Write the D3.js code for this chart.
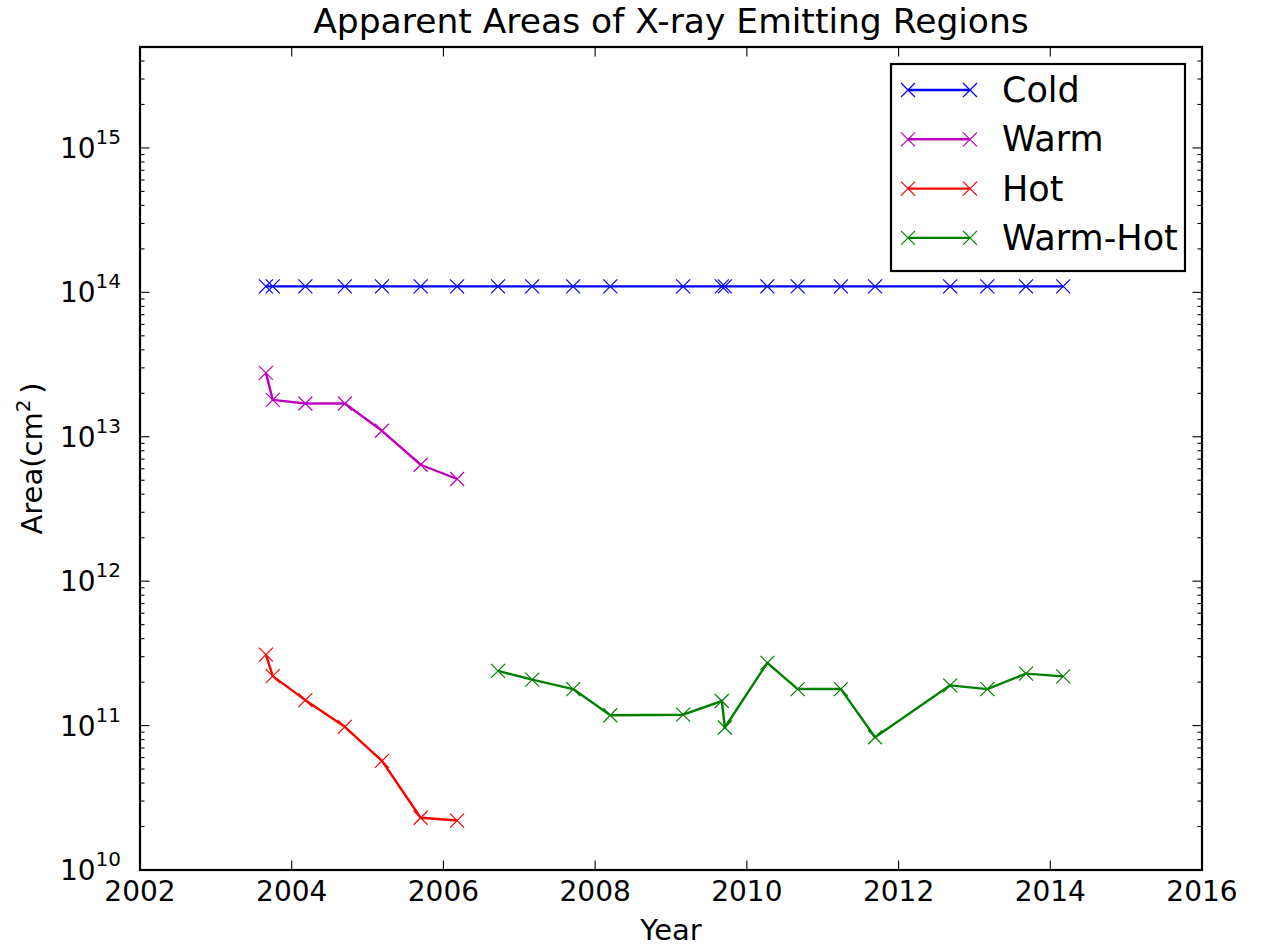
<!DOCTYPE html>
<meta charset="utf-8">
<style>
body { margin: 0; background: #fff; }
svg { font-family: "DejaVu Sans", sans-serif; }
</style>
<svg width="1262" height="951"></svg>
<script src="https://d3js.org/d3.v7.min.js"></script>
<script>

// observation dates (decimal year)
var years = [2003.66, 2003.75, 2004.18, 2004.70, 2005.19, 2005.70, 2006.18,
             2006.72, 2007.17, 2007.71, 2008.20, 2009.16, 2009.67, 2009.71,
             2010.27, 2010.67, 2011.24, 2011.69, 2012.68, 2013.17, 2013.68, 2014.17];

var coldArea = [1.1e14, 1.1e14, 1.1e14, 1.1e14, 1.1e14, 1.1e14, 1.1e14,
                1.1e14, 1.1e14, 1.1e14, 1.1e14, 1.1e14, 1.1e14, 1.1e14,
                1.1e14, 1.1e14, 1.1e14, 1.1e14, 1.1e14, 1.1e14, 1.1e14, 1.1e14];

// warm and hot only for the first 7 dates
var warmArea = [2.77e13, 1.8e13, 1.7e13, 1.7e13, 1.1e13, 6.4e12, 5.1e12];
var hotArea = [3.1e11, 2.2e11, 1.5e11, 9.8e10, 5.7e10, 2.3e10, 2.2e10];

// warm-hot for the remaining 15 dates
var warmHotArea = [2.39e11, 2.08e11, 1.79e11, 1.18e11, 1.19e11, 1.48e11, 9.7e10,
                   2.72e11, 1.79e11, 1.79e11, 8.3e10, 1.9e11, 1.79e11, 2.29e11, 2.19e11];

var xTicks = [2002, 2004, 2006, 2008, 2010, 2012, 2014, 2016];
var yTicks = [1e10, 1e11, 1e12, 1e13, 1e14, 1e15];

var series = [
  {name: "Cold", color: "#0000ff", x: years, y: coldArea},
  {name: "Warm", color: "#bf00bf", x: years.slice(0, 7), y: warmArea},
  {name: "Hot", color: "#ff0000", x: years.slice(0, 7), y: hotArea},
  {name: "Warm-Hot", color: "#008000", x: years.slice(7), y: warmHotArea}
];

var svg = d3.select("svg"),
    pLeft = 140, pRight = 1202, pTop = 47, pBottom = 870;

var x = d3.scaleLinear().domain([2002, 2016]).range([pLeft, pRight]);
var y = d3.scaleLog().domain([1e10, 5e15]).range([pBottom, pTop]);

// minor ticks for log axis
var minor = [];
for (var e = 10; e <= 15; e++) {
  for (var m = 2; m <= 9; m++) {
    var v = m * Math.pow(10, e);
    if (v <= 5e15) minor.push(v);
  }
}

function cross(cx, cy, r) {
  return "M" + (cx - r) + "," + (cy - r) + "L" + (cx + r) + "," + (cy + r) +
         "M" + (cx - r) + "," + (cy + r) + "L" + (cx + r) + "," + (cy - r);
}

var g = svg.append("g");

// data lines
series.forEach(function(s) {
  var pts = s.x.map(function(d, i) { return [d, s.y[i]]; });
  var line = d3.line()
      .x(function(d) { return x(d[0]); })
      .y(function(d) { return y(d[1]); });
  g.append("path")
      .attr("d", line(pts))
      .attr("fill", "none")
      .attr("stroke", s.color)
      .attr("stroke-width", 2.4)
      .attr("stroke-linejoin", "round");
  g.selectAll(null)
    .data(pts)
    .enter().append("path")
      .attr("d", function(d) { return cross(x(d[0]), y(d[1]), 7); })
      .attr("stroke", s.color)
      .attr("stroke-width", 1.2)
      .attr("fill", "none");
});

// ticks (inward, all four sides)
var tk = svg.append("g").attr("stroke", "#000").attr("stroke-width", 1.1);
xTicks.forEach(function(t) {
  tk.append("line").attr("x1", x(t)).attr("x2", x(t)).attr("y1", pBottom).attr("y2", pBottom - 9.5);
  tk.append("line").attr("x1", x(t)).attr("x2", x(t)).attr("y1", pTop).attr("y2", pTop + 9.5);
});
yTicks.forEach(function(t) {
  tk.append("line").attr("x1", pLeft).attr("x2", pLeft + 9.5).attr("y1", y(t)).attr("y2", y(t));
  tk.append("line").attr("x1", pRight).attr("x2", pRight - 9.5).attr("y1", y(t)).attr("y2", y(t));
});
minor.forEach(function(t) {
  tk.append("line").attr("x1", pLeft).attr("x2", pLeft + 4.5).attr("y1", y(t)).attr("y2", y(t));
  tk.append("line").attr("x1", pRight).attr("x2", pRight - 4.5).attr("y1", y(t)).attr("y2", y(t));
});

// frame
svg.append("rect")
    .attr("x", pLeft).attr("y", pTop)
    .attr("width", pRight - pLeft).attr("height", pBottom - pTop)
    .attr("fill", "none").attr("stroke", "#000").attr("stroke-width", 2.2);

// tick labels
svg.selectAll(".xl")
  .data(xTicks)
  .enter().append("text")
    .attr("x", function(d) { return x(d); })
    .attr("y", pBottom + 31)
    .attr("text-anchor", "middle")
    .attr("font-size", 28)
    .text(function(d) { return d; });

var yl = svg.selectAll(".yl")
  .data(yTicks)
  .enter().append("text")
    .attr("x", 121)
    .attr("y", function(d) { return y(d) + 10; })
    .attr("text-anchor", "end")
    .attr("font-size", 28);
yl.append("tspan").text("10");
yl.append("tspan")
    .attr("font-size", 20)
    .attr("dy", -14)
    .text(function(d) { return Math.round(Math.log10(d)); });

// title and axis labels
svg.append("text")
    .attr("x", (pLeft + pRight) / 2).attr("y", 33)
    .attr("text-anchor", "middle")
    .attr("font-size", 34.5)
    .text("Apparent Areas of X-ray Emitting Regions");

svg.append("text")
    .attr("x", (pLeft + pRight) / 2).attr("y", 940)
    .attr("text-anchor", "middle")
    .attr("font-size", 29)
    .text("Year");

var ylab = svg.append("text")
    .attr("transform", "translate(42," + ((pTop + pBottom) / 2) + ") rotate(-90)")
    .attr("text-anchor", "middle")
    .attr("font-size", 29);
ylab.append("tspan").text("Area(cm");
ylab.append("tspan").attr("font-size", 20).attr("dy", -12).text("2");
ylab.append("tspan").attr("dy", 12).text("\u2009)");

// legend
var lg = svg.append("g");
lg.append("rect")
    .attr("x", 891).attr("y", 64)
    .attr("width", 294).attr("height", 207)
    .attr("fill", "#fff").attr("stroke", "#000").attr("stroke-width", 2.2);
series.forEach(function(s, i) {
  var ly = 90 + i * 49.3;
  lg.append("line")
      .attr("x1", 908).attr("x2", 970).attr("y1", ly).attr("y2", ly)
      .attr("stroke", s.color).attr("stroke-width", 2.4);
  [908, 970].forEach(function(cx) {
    lg.append("path")
        .attr("d", cross(cx, ly, 7))
        .attr("stroke", s.color).attr("stroke-width", 1.2);
  });
  lg.append("text")
      .attr("x", 1002).attr("y", ly + 12)
      .attr("font-size", 35)
      .text(s.name);
});

</script>
